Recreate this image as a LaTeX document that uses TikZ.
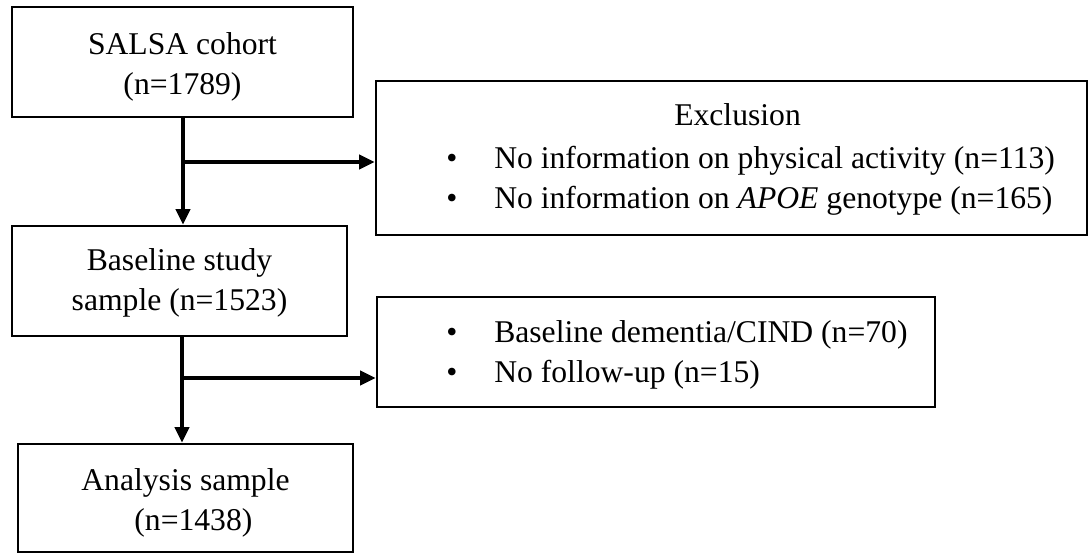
\documentclass[tikz,border=0pt]{standalone}
\usepackage{fontspec}
\setmainfont{Liberation Serif}
\usetikzlibrary{arrows.meta}
\tikzset{box/.style={draw, line width=1.9pt, inner sep=0pt},
  txt/.style={inner sep=0pt, align=center, font=\fontsize{22.5}{28.5}\selectfont},
  flow/.style={line width=2.5pt, -{Triangle[length=11pt,width=10pt]}}}

\begin{document}
\begin{tikzpicture}[x=0.025cm, y=-0.025cm]
\useasboundingbox (0,0) rectangle (1089,553);
% boxes
\node[box, minimum width=8.525cm, minimum height=2.75cm] (cohort) at (182.5,62) {};
\node[box, minimum width=17.775cm, minimum height=3.85cm] (excl) at (731.5,158) {};
\node[box, minimum width=8.375cm, minimum height=2.75cm] (base) at (179.5,281) {};
\node[box, minimum width=13.95cm, minimum height=2.75cm] (excltwo) at (656,352) {};
\node[box, minimum width=8.375cm, minimum height=2.7cm] (analysis) at (185.5,498) {};
% box texts
\node[txt] (cohorttxt) at ([yshift=-0.12cm]cohort.center) {SALSA cohort\\(n=1789)};
\node[txt] (basetxt) at ([yshift=-0.05cm]base.center) {Baseline study\\sample (n=1523)};
\node[txt] (analysistxt) at ([yshift=-0.12cm]analysis.center) {Analysis sample\\\hspace*{0.5em}(n=1438)};
% exclusion texts
\node[txt, anchor=base west] (exhead) at (674,125) {Exclusion};
\node[txt, anchor=base] (bulA) at (452,168) {\textbullet};
\node[txt, anchor=base west] (exA) at (494,168) {No information on physical activity (n=113)};
\node[txt, anchor=base] (bulB) at (452,208) {\textbullet};
\node[txt, anchor=base west] (exB) at (494,208) {No information on \textit{APOE} genotype (n=165)};
\node[txt, anchor=base] (bulC) at (452,342) {\textbullet};
\node[txt, anchor=base west] (exC) at (494,342) {Baseline dementia/CIND (n=70)};
\node[txt, anchor=base] (bulD) at (452,382) {\textbullet};
\node[txt, anchor=base west] (exD) at (494,382) {No follow-up (n=15)};
% connectors
\coordinate (jone) at (183,162);
\coordinate (jtwo) at (182,378);
\draw[flow] (cohort.south -| jone) -- (base.north -| jone);
\draw[flow] (jone) -- (jone -| excl.west);
\draw[flow] (base.south -| jtwo) -- (analysis.north -| jtwo);
\draw[flow] (jtwo) -- (jtwo -| excltwo.west);
\end{tikzpicture}
\end{document}
